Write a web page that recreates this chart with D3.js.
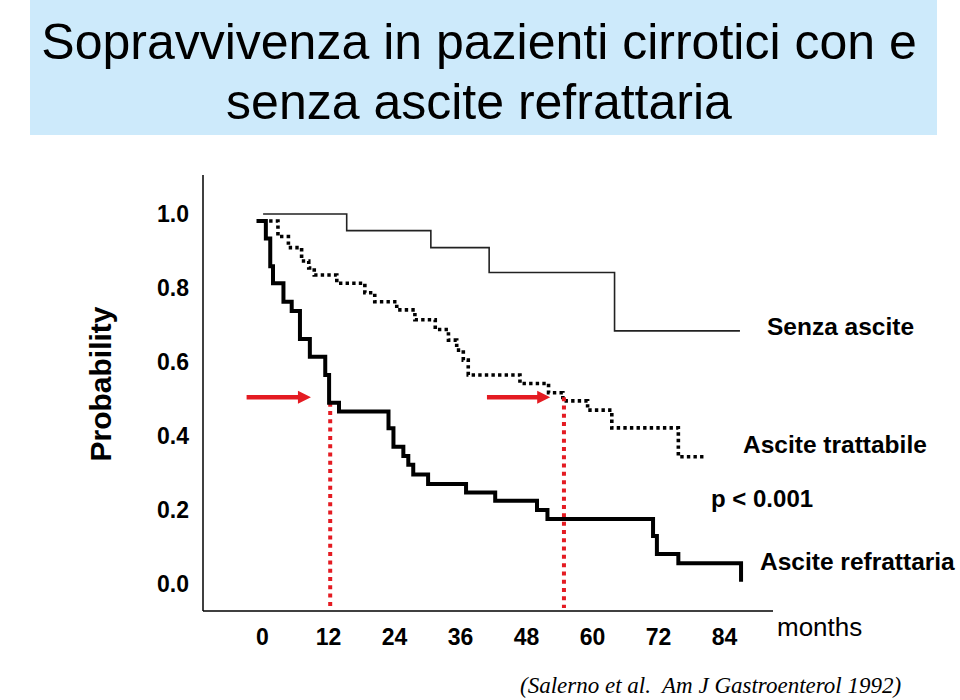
<!DOCTYPE html>
<html>
<head>
<meta charset="utf-8">
<script src="https://cdn.jsdelivr.net/npm/d3@7"></script>
<style>
  html, body { margin: 0; padding: 0; background: #ffffff; }
  svg { display: block; }
</style>
</head>
<body>
<svg id="chart" width="960" height="700"></svg>
<script>
// ---------- data ----------
const titleLines = ["Sopravvivenza in pazienti cirrotici con e", "senza ascite refrattaria"];
const monthTicks = [0, 12, 24, 36, 48, 60, 72, 84];
const probTicks = [0.0, 0.2, 0.4, 0.6, 0.8, 1.0];

// Senza ascite (thin solid)
const senzaTime = [0.2, 15.4, 30.7, 41.3, 64.1, 86.9];
const senzaSurv = [1.000, 0.955, 0.909, 0.842, 0.684, 0.684];

// Ascite trattabile (dotted)
const trattTime = [1.3, 2.9, 4.8, 7.2, 8.5, 9.5, 13.6, 18.7, 20.5, 24.5, 27.8, 31.5, 33.9, 35.4, 36.6, 37.5, 46.9, 52.1, 54.7, 59.2, 63.6, 75.7, 80.5];
const trattSurv = [0.981, 0.939, 0.909, 0.873, 0.854, 0.835, 0.813, 0.787, 0.763, 0.741, 0.714, 0.688, 0.659, 0.632, 0.605, 0.565, 0.542, 0.517, 0.495, 0.470, 0.422, 0.344, 0.344];

// Ascite refrattaria (thick solid)
const refrTime = [-1.0, 0.7, 1.5, 2.0, 3.9, 5.4, 6.9, 8.7, 11.5, 12.2, 14.0, 23.0, 23.9, 25.7, 26.6, 27.5, 30.2, 37.1, 42.4, 50.0, 51.9, 71.1, 71.8, 75.7, 87.1];
const refrSurv = [0.981, 0.934, 0.859, 0.813, 0.763, 0.738, 0.662, 0.614, 0.565, 0.490, 0.466, 0.421, 0.371, 0.346, 0.322, 0.296, 0.270, 0.247, 0.225, 0.200, 0.176, 0.130, 0.081, 0.056, 0.006];

// Median-survival markers (red)
const medianMonths = [12.4, 54.9];
const medianTops = [0.490, 0.505];
const arrowStart = [-2.8, 40.9];
const arrowEnd = [8.9, 52.4];
const arrowLevel = [0.505, 0.505];

const seriesLabels = ["Senza ascite", "Ascite trattabile", "Ascite refrattaria"];
const pText = "p < 0.001";
const xTitle = "months";
const yTitle = "Probability";
const citation = "(Salerno et al.  Am J Gastroenterol 1992)";

// ---------- drawing ----------
const svg = d3.select("#chart");
const SANS = "'Liberation Sans', Arial, Helvetica, sans-serif";
const RED = "#e41b22";

// title box
svg.append("rect").attr("x", 30).attr("y", 0).attr("width", 907).attr("height", 135).attr("fill", "#cdeafb");
svg.selectAll("text.title").data(titleLines).enter().append("text")
  .attr("class", "title")
  .attr("x", 479).attr("y", (d, i) => 59 + i * 60)
  .attr("text-anchor", "middle")
  .style("font-family", SANS).style("font-size", "50px").style("fill", "#000")
  .text(d => d);

const x = d3.scaleLinear().domain([0, 84]).range([262, 724]);
const y = d3.scaleLinear().domain([0, 1]).range([584, 214]);
const axisX0 = 203, axisY0 = 611;

// axes lines
svg.append("line").attr("x1", axisX0).attr("x2", axisX0).attr("y1", 175).attr("y2", axisY0)
  .attr("stroke", "#000").attr("stroke-width", 1.5);
svg.append("line").attr("x1", axisX0).attr("x2", 773).attr("y1", axisY0).attr("y2", axisY0)
  .attr("stroke", "#000").attr("stroke-width", 1.5);

// y tick labels
const gy = svg.append("g").attr("transform", `translate(${axisX0},0)`)
  .call(d3.axisLeft(y).tickValues(probTicks).tickSize(0).tickPadding(14).tickFormat(d3.format(".1f")));
gy.select(".domain").remove();
gy.selectAll("text").style("font-family", SANS).style("font-size", "23px").style("font-weight", "bold").attr("fill", "#000");

// x tick labels
const gx = svg.append("g").attr("transform", `translate(0,${axisY0})`)
  .call(d3.axisBottom(x).tickValues(monthTicks).tickSize(0));
gx.select(".domain").remove();
gx.selectAll("text").attr("dy", null).attr("y", 34)
  .style("font-family", SANS).style("font-size", "23px").style("font-weight", "bold").attr("fill", "#000");

// y title
svg.append("text")
  .attr("transform", "translate(111,384) rotate(-90)")
  .attr("text-anchor", "middle")
  .style("font-family", SANS).style("font-size", "30px").style("font-weight", "bold")
  .text(yTitle);

// curves
const line = d3.line().x(d => x(d[0])).y(d => y(d[1])).curve(d3.curveStepAfter);
const senza = senzaTime.map((t, i) => [t, senzaSurv[i]]);
const tratt = trattTime.map((t, i) => [t, trattSurv[i]]);
const refr = refrTime.map((t, i) => [t, refrSurv[i]]);

svg.append("path").attr("d", line(senza)).attr("fill", "none")
  .attr("stroke", "#222").attr("stroke-width", 1.6);
svg.append("path").attr("d", line(tratt)).attr("fill", "none")
  .attr("stroke", "#000").attr("stroke-width", 3.6).attr("stroke-dasharray", "3.4,3.2");

// red median lines
svg.selectAll("line.med").data(medianMonths).enter().append("line")
  .attr("class", "med")
  .attr("x1", d => x(d)).attr("x2", d => x(d))
  .attr("y1", (d, i) => y(medianTops[i])).attr("y2", axisY0 - 3)
  .attr("stroke", RED).attr("stroke-width", 4).attr("stroke-dasharray", "4,4.3");

svg.append("path").attr("d", line(refr)).attr("fill", "none")
  .attr("stroke", "#000").attr("stroke-width", 4).attr("stroke-linejoin", "miter");

// red arrows
const arrows = arrowStart.map((s, i) => ({s, e: arrowEnd[i], v: arrowLevel[i]}));
const ag = svg.selectAll("g.arrow").data(arrows).enter().append("g").attr("class", "arrow");
ag.append("line")
  .attr("x1", d => x(d.s)).attr("x2", d => x(d.e) - 10)
  .attr("y1", d => y(d.v)).attr("y2", d => y(d.v))
  .attr("stroke", RED).attr("stroke-width", 4.5);
ag.append("path")
  .attr("d", d => {
    const xe = x(d.e), yv = y(d.v);
    return `M${xe},${yv} L${xe - 13},${yv - 6.5} L${xe - 13},${yv + 6.5} Z`;
  })
  .attr("fill", RED);

// series labels
const labelPos = [[767, 335], [743, 453], [760, 570]];
svg.selectAll("text.lab").data(seriesLabels).enter().append("text")
  .attr("class", "lab")
  .attr("x", (d, i) => labelPos[i][0]).attr("y", (d, i) => labelPos[i][1])
  .style("font-family", SANS).style("font-size", "24.5px").style("font-weight", "bold")
  .text(d => d);

svg.append("text").attr("x", 711).attr("y", 507)
  .style("font-family", SANS).style("font-size", "24px").style("font-weight", "bold")
  .text(pText);

svg.append("text").attr("x", 777).attr("y", 636)
  .style("font-family", SANS).style("font-size", "26px")
  .text(xTitle);

svg.append("text").attr("x", 520).attr("y", 693)
  .style("font-family", "'Liberation Serif', 'Times New Roman', serif").style("font-size", "23px")
  .style("font-style", "italic").style("white-space", "pre")
  .text(citation);
</script>
</body>
</html>
